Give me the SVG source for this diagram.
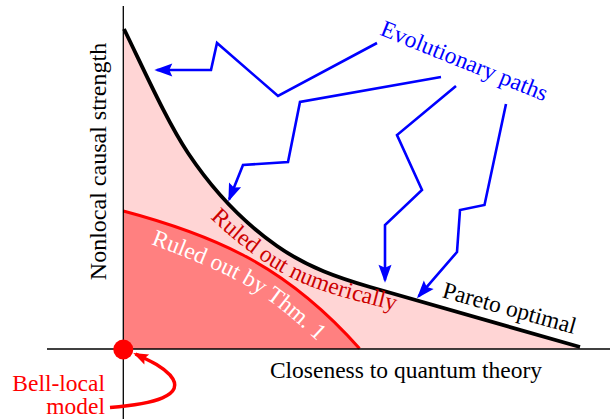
<svg xmlns="http://www.w3.org/2000/svg" width="610" height="419" viewBox="0 0 610 419">
<style>
  .t { font-family: 'Liberation Serif', 'Times New Roman', serif; font-size: 23.5px; }
  .axis { fill: none; stroke: #000; stroke-width: 1.3; }
  .evo { fill: none; stroke: #0000ff; stroke-width: 2.6; stroke-linejoin: miter; marker-end: url(#ab); }
  .bell { fill: none; stroke: #ff0000; stroke-width: 3.5; marker-end: url(#ar); }
</style>
<defs>
  <marker id="ab" markerUnits="userSpaceOnUse" markerWidth="18" markerHeight="13" refX="15.5" refY="6.5" orient="auto" overflow="visible">
    <path d="M0,0 L18,6.5 L0,13 L3,6.5 Z" fill="#0000ff"/>
  </marker>
  <marker id="ar" markerUnits="userSpaceOnUse" markerWidth="15" markerHeight="11" refX="12.5" refY="5.5" orient="auto" overflow="visible">
    <path d="M0,0 L15,5.5 L0,11 L2.5,5.5 Z" fill="#ff0000"/>
  </marker>
  <path id="pNum" d="M210,218 C238,244 265,266 300,282 C330,295 370,305 440,321"/>
  <path id="pThm" d="M151,244 C185,257 228,273 260,294 C285,311 305,329 335,358"/>
</defs>

<g id="regions">
  <path d="M124,29 C145,72 167,121.5 188,153 C218,198 247,225 277,246 C308,267.7 339,278 370,287 L580,347 L580,349 L123.3,349 Z" fill="#ffd5d5"/>
  <path d="M123.3,211 C164,221.8 203,234.2 243,255 C282,275.3 320,304 359.5,349 L123.3,349 Z" fill="#ff8080"/>
  <path d="M123.3,211 C164,221.8 203,234.2 243,255 C282,275.3 320,304 359.5,348.5" fill="none" stroke="#ff0000" stroke-width="3"/>
</g>

<g id="pareto-curve">
  <path d="M124,29 C145,72 167,121.5 188,153 C218,198 247,225 277,246 C308,267.7 339,278 370,287 L580,347" fill="none" stroke="#000" stroke-width="3.8"/>
</g>

<g id="axes">
  <line class="axis" x1="123.3" y1="6" x2="123.3" y2="419"/>
  <line class="axis" x1="47" y1="349" x2="610" y2="349"/>
</g>

<g id="labels">
  <text class="t" transform="translate(106,161.5) rotate(-90)" text-anchor="middle" style="font-size:24px">Nonlocal causal strength</text>
  <text class="t" x="406" y="378" text-anchor="middle">Closeness to quantum theory</text>
  <text class="t" transform="translate(507.5,315.5) rotate(15.6)" text-anchor="middle" fill="#000">Pareto optimal</text>
  <text class="t" fill="#cc0000"><textPath href="#pNum">Ruled out numerically</textPath></text>
  <text class="t" fill="#ffffff"><textPath href="#pThm">Ruled out by Thm. 1</textPath></text>
  <text class="t" transform="translate(461.5,68) rotate(22)" text-anchor="middle" fill="#0000ff">Evolutionary paths</text>
</g>

<g id="connectors">
  <path class="evo" d="M377,43 L278,96 L217,43 L211,70 L156.8,70"/>
  <path class="evo" d="M441,77 L300,102 L288,162 L243,165 L229.3,199.2"/>
  <path class="evo" d="M456,86 L397,135 L422,190 L385,225 L385,280.2"/>
  <path class="evo" d="M506,104 L484.5,205 L460,210 L457,252 L418.6,296.4"/>
  <path class="bell" d="M110,407.5 C152,404 188,396 170,375 C160,365 150,361 135.5,354"/>
</g>

<g id="bell-local">
  <circle cx="123.3" cy="349.5" r="10" fill="#ff0000"/>
  <text class="t" x="105" y="391" text-anchor="end" fill="#ff0000">Bell-local</text>
  <text class="t" x="105" y="413.5" text-anchor="end" fill="#ff0000">model</text>
</g>
</svg>
